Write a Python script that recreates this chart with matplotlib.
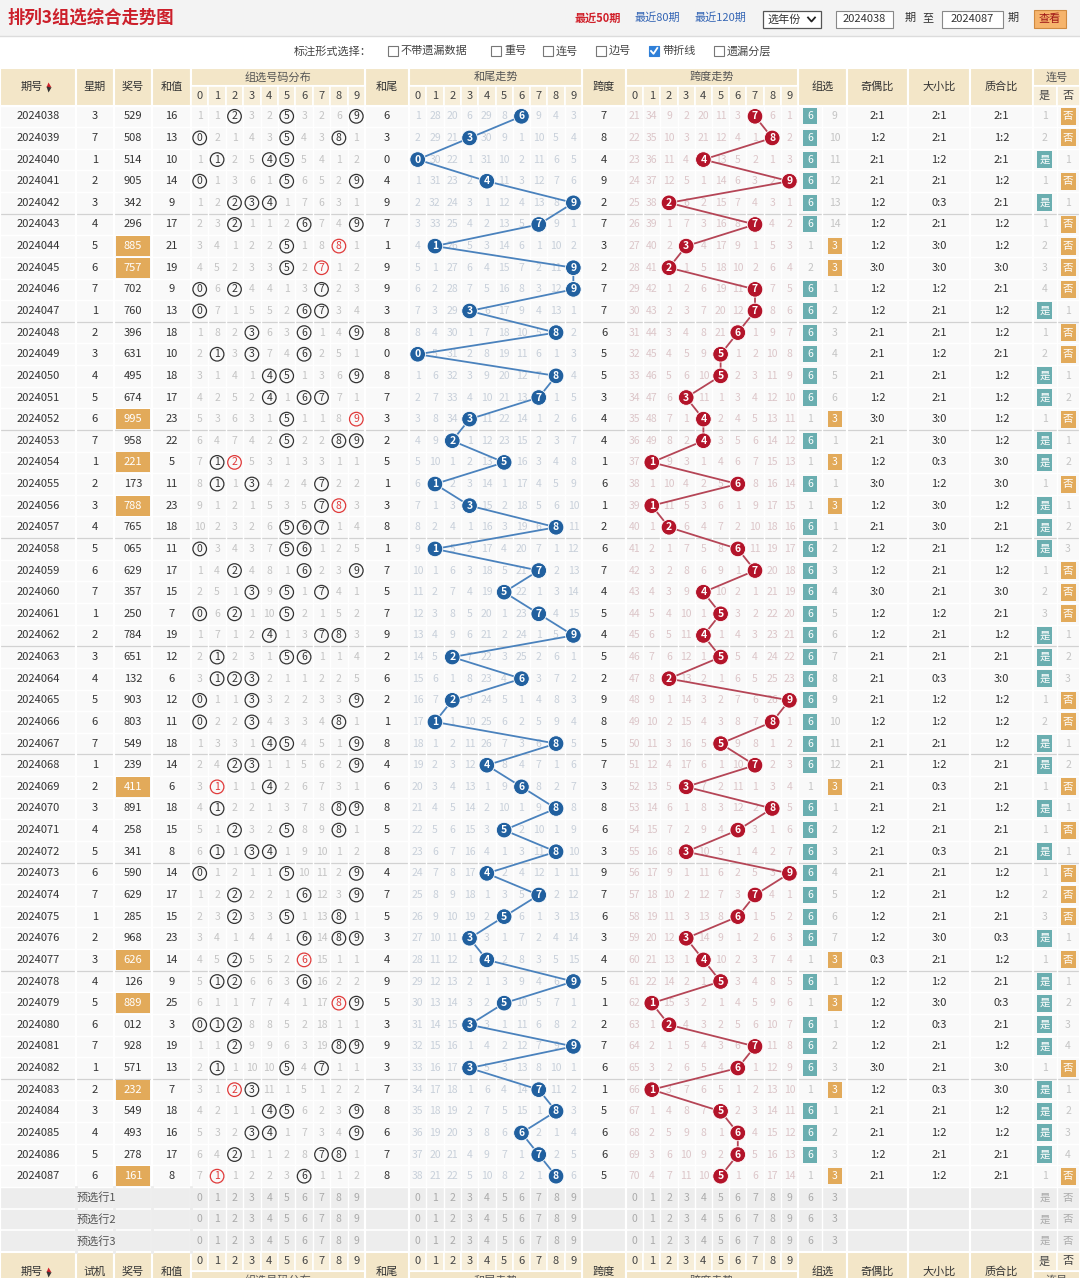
import matplotlib
matplotlib.use("Agg")
import matplotlib.pyplot as plt
from matplotlib.patches import Rectangle, Circle

plt.rcParams['font.family'] = ['Noto Sans CJK SC', 'DejaVu Sans']

# ---------------- data ----------------
periods = ["2024038", "2024039", "2024040", "2024041", "2024042", "2024043", "2024044",
           "2024045", "2024046", "2024047", "2024048", "2024049", "2024050", "2024051",
           "2024052", "2024053", "2024054", "2024055", "2024056", "2024057", "2024058",
           "2024059", "2024060", "2024061", "2024062", "2024063", "2024064", "2024065",
           "2024066", "2024067", "2024068", "2024069", "2024070", "2024071", "2024072",
           "2024073", "2024074", "2024075", "2024076", "2024077", "2024078", "2024079",
           "2024080", "2024081", "2024082", "2024083", "2024084", "2024085", "2024086",
           "2024087"]
weekdays = [3, 7, 1, 2, 3, 4, 5, 6, 7, 1, 2, 3, 4, 5, 6, 7, 1, 2, 3, 4, 5, 6, 7, 1, 2,
            3, 4, 5, 6, 7, 1, 2, 3, 4, 5, 6, 7, 1, 2, 3, 4, 5, 6, 7, 1, 2, 3, 4, 5, 6]
draws = ["529", "508", "514", "905", "342", "296", "885", "757", "702", "760",
         "396", "631", "495", "674", "995", "958", "221", "173", "788", "765",
         "065", "629", "357", "250", "784", "651", "132", "903", "803", "549",
         "239", "411", "891", "258", "341", "590", "629", "285", "968", "626",
         "126", "889", "012", "928", "571", "232", "549", "493", "278", "161"]
# omission values shown on the first row (2024038)
gd_first = [1, 1, 0, 3, 2, 0, 3, 2, 6, 0]
tail_first = [1, 28, 20, 6, 29, 8, 0, 9, 4, 3]
span_first = [21, 34, 9, 2, 20, 11, 3, 0, 6, 1]
g6_first, g3_first = 0, 9
con_yes_first, con_no_first = 1, 0
digits = ["0", "1", "2", "3", "4", "5", "6", "7", "8", "9"]
pre_rows = ["预选行1", "预选行2", "预选行3"]

# ---------------- derived per-period quantities ----------------
N = len(draws)
nums = [[int(c) for c in d] for d in draws]
sums = [sum(n) for n in nums]
tails = [s % 10 for s in sums]
spans = [max(n) - min(n) for n in nums]
is_g3 = [len(set(n)) < 3 for n in nums]


def consec(n):
    s = sorted(set(n))
    return any(b - a == 1 for a, b in zip(s, s[1:]))


is_con = [consec(n) for n in nums]


def omissions(first, hits):
    out = [list(first)]
    for i in range(1, N):
        prev = out[-1]
        out.append([0 if d in hits[i] else prev[d] + 1 for d in range(10)])
    return out


gd_om = omissions(gd_first, [set(n) for n in nums])
tail_om = omissions(tail_first, [{t} for t in tails])
span_om = omissions(span_first, [{s} for s in spans])

g6_om, g3_om = [g6_first], [g3_first]
cy_om, cn_om = [con_yes_first], [con_no_first]
for i in range(1, N):
    if is_g3[i]:
        g6_om.append(g6_om[-1] + 1); g3_om.append(0)
    else:
        g6_om.append(0); g3_om.append(g3_om[-1] + 1)
    if is_con[i]:
        cy_om.append(0); cn_om.append(cn_om[-1] + 1)
    else:
        cy_om.append(cy_om[-1] + 1); cn_om.append(0)

odd_even = ["%d:%d" % (sum(d % 2 for d in n), sum(1 - d % 2 for d in n)) for n in nums]
big_small = ["%d:%d" % (sum(d >= 5 for d in n), sum(d < 5 for d in n)) for n in nums]
PR = {1, 2, 3, 5, 7}
prime_comp = ["%d:%d" % (sum(d in PR for d in n), sum(d not in PR for d in n)) for n in nums]

# ---------------- layout ----------------
W, H = 1080, 1278
fig = plt.figure(figsize=(W / 100, H / 100), dpi=100)
ax = fig.add_axes([0, 0, 1, 1])
ax.set_xlim(0, W)
ax.set_ylim(H, 0)
ax.axis('off')

X_PER = (0, 76); X_WK = (76, 114); X_DR = (114, 152); X_SUM = (152, 191)
X_GD = (191, 365); X_TAIL = (365, 409); X_TT = (409, 582); X_SPAN = (582, 626)
X_ST = (626, 798); X_GRP = (798, 847); X_OE = (847, 908); X_BS = (908, 970)
X_PC = (970, 1033); X_CON = (1033, 1080)
GRP_C = (810, 834.5); CON_C = (1044.5, 1068)

HT, HM, HB = 68, 86, 105.5
ROW0, RH = 105.5, 21.63
BEIGE = '#f3e6c8'; BEIGE2 = '#f7eed9'
TEAL = '#6aaeb0'; ORANGE = '#e2aa5a'
BLUE = '#21609f'; BLUE_L = '#4a82bd'
RED = '#b3142a'; RED_L = '#b54556'
TXT = '#333333'


def ry(i):
    return ROW0 + (i + 0.5) * RH


def cen(x):
    return (x[0] + x[1]) / 2


def subc(x, d):
    return x[0] + (d + 0.5) * (x[1] - x[0]) / 10


def rect(x0, y0, x1, y1, fc, ec='none', lw=0, z=0):
    ax.add_patch(Rectangle((x0, y0), x1 - x0, y1 - y0, fc=fc, ec=ec, lw=lw, zorder=z))


def txt(x, y, s, size=8, color=TXT, weight='normal', ha='center', z=3):
    ax.text(x, y, s, fontsize=size, color=color, fontweight=weight, ha=ha,
            va='center', zorder=z)


# ---------------- top title band ----------------
rect(0, 0, W, 36, '#f3f3f3')
ax.plot([0, W], [36, 36], color='#dcdcdc', lw=1)
txt(8, 18, "排列3组选综合走势图", size=12.5, color='#cc1f2a', weight='bold', ha='left')
txt(598, 18, "最近50期", size=8, color='#d0202a', weight='bold')
txt(657, 18, "最近80期", size=8, color='#3566b5')
txt(720, 18, "最近120期", size=8, color='#3566b5')
rect(763, 11, 821, 28, 'white', '#555555', 0.9, z=1)
txt(768, 19.5, "选年份", size=8, ha='left')
ax.plot([808, 811.5, 815], [17.5, 21.5, 17.5], color='#222222', lw=1.3, zorder=3)
rect(836, 11, 893, 28, 'white', '#888888', 0.8, z=1)
txt(864.5, 19.5, "2024038", size=8)
txt(910, 18, "期", size=8)
txt(928, 18, "至", size=8)
rect(942, 11, 1003, 28, 'white', '#888888', 0.8, z=1)
txt(972.5, 19.5, "2024087", size=8)
txt(1013, 18, "期", size=8)
rect(1034, 10, 1066, 28, '#f6b46c', '#d08a40', 0.8, z=1)
txt(1050, 19, "查看", size=8, color='#a01818')

# option row
txt(372, 51, "标注形式选择：", size=8, color='#444444', ha='right')
opts = [(388, "不带遗漏数据", False), (491, "重号", False), (543, "连号", False),
        (596, "边号", False), (649, "带折线", True), (714, "遗漏分层", False)]
for x0, lab, chk in opts:
    if chk:
        rect(x0, 46, x0 + 10, 56, '#2f7fd8', '#2f7fd8', 0.8, z=2)
        ax.plot([x0 + 2, x0 + 4.5, x0 + 8.3], [51, 53.8, 48], color='white', lw=1.3, zorder=3)
    else:
        rect(x0, 46, x0 + 10, 56, 'white', '#777777', 0.8, z=2)
    txt(x0 + 13, 51, lab, size=8, color='#444444', ha='left')

# ---------------- header ----------------
single_cols = [(X_PER, "期号"), (X_WK, "星期"), (X_DR, "奖号"), (X_SUM, "和值"),
               (X_TAIL, "和尾"), (X_SPAN, "跨度"), (X_GRP, "组选"), (X_OE, "奇偶比"),
               (X_BS, "大小比"), (X_PC, "质合比")]
grid_cols = [(X_GD, "组选号码分布"), (X_TT, "和尾走势"), (X_ST, "跨度走势")]


def draw_header(ytop, ymid, ybot, top_titles=True, title_y=None, single_y=None):
    for xr, lab in single_cols:
        rect(xr[0], ytop, xr[1], ybot, BEIGE, 'white', 1.5, z=1)
        xx = cen(xr) - (6 if lab == "期号" else 0)
        txt(xx, single_y, lab, size=8)
        if lab == "期号":
            ax.plot([xx + 16], [single_y - 2.6], marker='^', ms=3.6, color='#d0202a',
                    mec='none', zorder=4)
            ax.plot([xx + 16], [single_y + 2.6], marker='v', ms=3.6, color='#333333',
                    mec='none', zorder=4)
    for xr, lab in grid_cols + [(X_CON, "连号")]:
        if top_titles:
            rect(xr[0], ytop, xr[1], ymid, BEIGE, 'white', 1.5, z=1)
        else:
            rect(xr[0], ymid, xr[1], ybot, BEIGE, 'white', 1.5, z=1)
        txt(cen(xr), title_y, lab, size=8, color='#555555')
    dy0, dy1 = (ymid, ybot) if top_titles else (ytop, ymid)
    for xr, _ in grid_cols:
        w = (xr[1] - xr[0]) / 10
        for d in range(10):
            rect(xr[0] + d * w, dy0, xr[0] + (d + 1) * w, dy1, BEIGE2, 'white', 1.2, z=1)
            txt(subc(xr, d), (dy0 + dy1) / 2, digits[d], size=8, color='#444444')
    for k, lab in enumerate(["是", "否"]):
        x0 = X_CON[0] + k * 23.5
        rect(x0, dy0, x0 + 23.5, dy1, BEIGE2, 'white', 1.2, z=1)
        txt(CON_C[k], (dy0 + dy1) / 2, lab, size=8, color='#444444')


draw_header(HT, HM, HB, True, title_y=77, single_y=(HT + HB) / 2)

# ---------------- data area ----------------
YB = ROW0 + N * RH
rect(0, ROW0, W, YB, '#f9f9f9')
for i in range(N + 1):
    y = ROW0 + i * RH
    if i % 5 == 0 and 0 < i < N:
        ax.plot([0, W], [y, y], color='#d2d2d2', lw=0.9, zorder=1)
    else:
        ax.plot([0, W], [y, y], color='#ffffff', lw=1.0, zorder=1)
bounds = [0, 76, 114, 152, 191, 365, 409, 582, 626, 798, 847, 908, 970, 1033, 1080]
for xb in bounds:
    ax.plot([xb, xb], [ROW0, YB + 3 * RH], color='#ffffff', lw=1.6, zorder=1)
for xr in [X_GD, X_TT, X_ST]:
    w = (xr[1] - xr[0]) / 10
    for d in range(1, 10):
        ax.plot([xr[0] + d * w] * 2, [ROW0, YB + 3 * RH], color='#ffffff', lw=1.0, zorder=1)
ax.plot([822] * 2, [ROW0, YB + 3 * RH], color='#ffffff', lw=1.0, zorder=1)
ax.plot([1056.5] * 2, [ROW0, YB + 3 * RH], color='#ffffff', lw=1.0, zorder=1)

OM_GRAY = '#c4c4c4'
OM_BLUE = '#c8d0da'
OM_RED = '#dcc6c9'

for i in range(N):
    y = ry(i)
    txt(cen(X_PER), y, periods[i], size=8)
    txt(cen(X_WK), y, str(weekdays[i]), size=8)
    if is_g3[i]:
        rect(X_DR[0] + 2, y - 10, X_DR[1] - 2, y + 10, ORANGE, z=2)
        txt(cen(X_DR), y, draws[i], size=8, color='white')
    else:
        txt(cen(X_DR), y, draws[i], size=8)
    txt(cen(X_SUM), y, str(sums[i]), size=8)
    txt(cen(X_TAIL), y, str(tails[i]), size=8)
    txt(cen(X_SPAN), y, str(spans[i]), size=8)

    # group distribution
    for d in range(10):
        x = subc(X_GD, d)
        if gd_om[i][d] == 0:
            rep = nums[i].count(d) > 1
            col = '#e03a3a' if rep else '#333333'
            ax.add_patch(Circle((x, y), 6.8, fill=False, ec=col, lw=0.9, zorder=3))
            txt(x, y, digits[d], size=7.5, color=col, z=4)
        else:
            txt(x, y, str(gd_om[i][d]), size=7.5, color=OM_GRAY)

    # tail / span omission numbers
    for d in range(10):
        if tail_om[i][d] != 0:
            txt(subc(X_TT, d), y, str(tail_om[i][d]), size=7.5, color=OM_BLUE)
        if span_om[i][d] != 0:
            txt(subc(X_ST, d), y, str(span_om[i][d]), size=7.5, color=OM_RED)

    # group type
    if is_g3[i]:
        txt(GRP_C[0], y, str(g6_om[i]), size=7.5, color=OM_GRAY)
        rect(GRP_C[1] - 7, y - 8, GRP_C[1] + 7, y + 8, ORANGE, z=2)
        txt(GRP_C[1], y, "3", size=7.5, color='white')
    else:
        rect(GRP_C[0] - 7, y - 8, GRP_C[0] + 7, y + 8, TEAL, z=2)
        txt(GRP_C[0], y, "6", size=7.5, color='white')
        txt(GRP_C[1], y, str(g3_om[i]), size=7.5, color=OM_GRAY)

    txt(cen(X_OE), y, odd_even[i], size=8)
    txt(cen(X_BS), y, big_small[i], size=8)
    txt(cen(X_PC), y, prime_comp[i], size=8)

    if is_con[i]:
        rect(CON_C[0] - 7.5, y - 8.5, CON_C[0] + 7.5, y + 8.5, TEAL, z=2)
        txt(CON_C[0], y, "是", size=7.5, color='white')
        txt(CON_C[1], y, str(cn_om[i]), size=7.5, color=OM_GRAY)
    else:
        txt(CON_C[0], y, str(cy_om[i]), size=7.5, color=OM_GRAY)
        rect(CON_C[1] - 7.5, y - 8.5, CON_C[1] + 7.5, y + 8.5, ORANGE, z=2)
        txt(CON_C[1], y, "否", size=7.5, color='white')

# trend lines and balls
tx = [subc(X_TT, t) for t in tails]
sx = [subc(X_ST, s) for s in spans]
ys = [ry(i) for i in range(N)]
ax.plot(tx, ys, color=BLUE_L, lw=1.3, zorder=4, solid_capstyle='round')
ax.plot(sx, ys, color=RED_L, lw=1.3, zorder=4, solid_capstyle='round')
for i in range(N):
    ax.add_patch(Circle((tx[i], ys[i]), 7.8, fc=BLUE, ec='white', lw=0.6, zorder=5))
    txt(tx[i], ys[i], str(tails[i]), size=7.5, color='white', weight='bold', z=6)
    ax.add_patch(Circle((sx[i], ys[i]), 7.8, fc=RED, ec='white', lw=0.6, zorder=5))
    txt(sx[i], ys[i], str(spans[i]), size=7.5, color='white', weight='bold', z=6)

# ---------------- pre-selection rows ----------------
for k, lab in enumerate(pre_rows):
    y0 = YB + k * RH
    rect(0, y0, W, y0 + RH, '#ededed', z=0.5)
    ax.plot([0, W], [y0 + RH, y0 + RH], color='white', lw=1.2, zorder=1)
    yc = y0 + RH / 2
    txt(96, yc, lab, size=8, color='#555555')
    for xr in [X_GD, X_TT, X_ST]:
        for d in range(10):
            txt(subc(xr, d), yc, digits[d], size=7.5, color='#aaaaaa')
    txt(GRP_C[0], yc, "6", size=7.5, color='#aaaaaa')
    txt(GRP_C[1], yc, "3", size=7.5, color='#aaaaaa')
    txt(CON_C[0], yc, "是", size=7.5, color='#aaaaaa')
    txt(CON_C[1], yc, "否", size=7.5, color='#aaaaaa')
ax.plot([191, 191], [YB, YB + 3 * RH], color='#ededed', lw=2, zorder=1.5)
for xb in [76, 114, 152]:
    ax.plot([xb, xb], [YB, YB + 3 * RH], color='#ededed', lw=2, zorder=1.5)

# ---------------- footer header ----------------
FT = YB + 3 * RH
single_cols[1] = (X_WK, "试机")
draw_header(FT, FT + 19, FT + 40, False, title_y=FT + 29, single_y=FT + 20)

fig.savefig("out.png", dpi=100)
